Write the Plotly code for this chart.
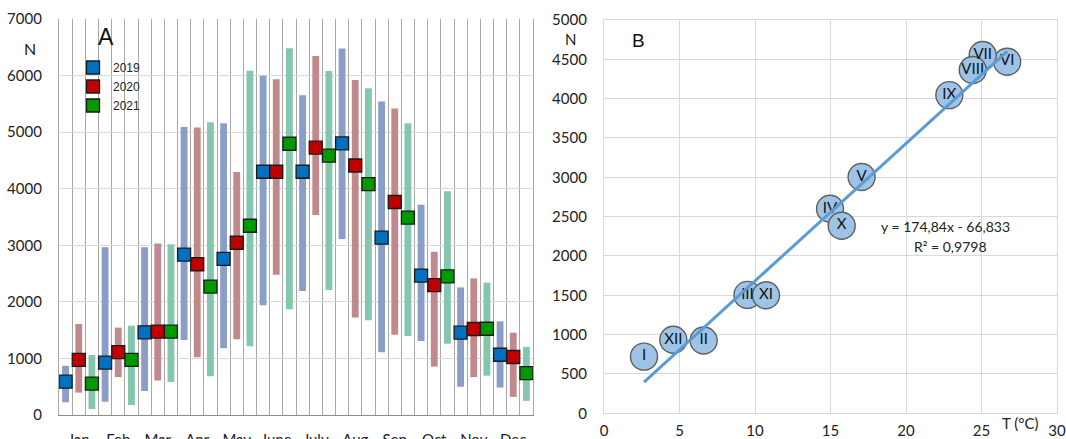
import plotly.graph_objects as go

# ---- Panel A: monthly N per year (mean with min–max range) ----
months = ["Jan", "Feb", "Mar", "Apr", "May", "June", "July", "Aug", "Sep", "Oct", "Nov", "Dec"]
years = ["2019", "2020", "2021"]

mean_2019 = [590, 925, 1460, 2835, 2760, 4300, 4300, 4800, 3135, 2465, 1455, 1065]
low_2019 = [225, 235, 425, 1325, 1180, 1940, 2190, 3110, 1110, 1310, 500, 485]
high_2019 = [870, 2965, 2965, 5090, 5155, 5995, 5650, 6480, 5540, 3715, 2255, 1655]

mean_2020 = [975, 1110, 1475, 2665, 3045, 4300, 4725, 4410, 3765, 2295, 1520, 1025]
low_2020 = [395, 670, 610, 1020, 1340, 2480, 3535, 1725, 1420, 855, 670, 320]
high_2020 = [1610, 1545, 3030, 5080, 4295, 5935, 6345, 5920, 5420, 2885, 2415, 1455]

mean_2021 = [555, 975, 1475, 2270, 3345, 4795, 4585, 4080, 3490, 2450, 1525, 740]
low_2021 = [105, 175, 585, 685, 1215, 1870, 2210, 1675, 1395, 1260, 695, 250]
high_2021 = [1060, 1580, 3020, 5175, 6085, 6485, 6080, 5775, 5155, 3955, 2340, 1205]

# ---- Panel B: mean N vs mean temperature per month ----
month_roman = ["I", "II", "III", "IV", "V", "VI", "VII", "VIII", "IX", "X", "XI", "XII"]
temp_c = [2.65, 6.6, 9.5, 14.97, 17.06, 26.7, 25.08, 24.42, 22.87, 15.74, 10.73, 4.59]
n_mean = [720, 925, 1505, 2600, 3005, 4470, 4555, 4365, 4045, 2385, 1500, 935]
fit_slope = 174.84
fit_intercept = -66.833
fit_r2 = 0.9798

series = [
    (years[0], mean_2019, low_2019, high_2019, "#8A9EC8", "#0070C0"),
    (years[1], mean_2020, low_2020, high_2020, "#C08A8C", "#C00000"),
    (years[2], mean_2021, low_2021, high_2021, "#84C6AE", "#009A00"),
]

FONT = "Lato"
W, H = 1066, 439

fig = go.Figure()

# one slot per (month, year); the three years of a month sit side by side
for k, (yr, mean, low, high, bar_col, mk_col) in enumerate(series):
    slots = [m * 3 + k for m in range(len(months))]
    fig.add_trace(go.Bar(
        x=slots, y=[h - l for h, l in zip(high, low)], base=low,
        width=0.52, marker=dict(color=bar_col, line=dict(width=0)),
        showlegend=False, hoverinfo="skip", xaxis="x", yaxis="y"))

for k, (yr, mean, low, high, bar_col, mk_col) in enumerate(series):
    slots = [m * 3 + k for m in range(len(months))]
    fig.add_trace(go.Scatter(
        x=slots, y=mean, mode="markers", name=yr,
        marker=dict(symbol="square", size=13, color=mk_col,
                    line=dict(color="#1a1a1a", width=1.3)),
        xaxis="x", yaxis="y"))

# panel B bubbles and trend line
fig.add_trace(go.Scatter(
    x=temp_c, y=n_mean, mode="markers+text", text=month_roman,
    textposition="middle center", textfont=dict(family=FONT, size=15, color="#111"),
    marker=dict(size=27, color="#9DC3E6", line=dict(color="#5F5F5F", width=1.4)),
    showlegend=False, xaxis="x2", yaxis="y2"))

x_fit = [min(temp_c), max(temp_c)]
y_fit = [fit_slope * x + fit_intercept for x in x_fit]
fig.add_trace(go.Scatter(
    x=x_fit, y=y_fit, mode="lines", line=dict(color="#5B9BD5", width=3),
    showlegend=False, xaxis="x2", yaxis="y2"))

month_centers = [m * 3 + 1 for m in range(len(months))]


def label(text, px, py, size, family=FONT, color="#222"):
    return dict(text=text, x=px / W, y=1 - py / H, xref="paper", yref="paper",
                xanchor="center", yanchor="middle", showarrow=False,
                font=dict(family=family, size=size, color=color))


fig.update_layout(
    width=W, height=H,
    margin=dict(l=0, r=0, t=0, b=0, autoexpand=False),
    paper_bgcolor="white", plot_bgcolor="white",
    barmode="overlay",
    font=dict(family=FONT, size=15, color="#222"),
    xaxis=dict(
        domain=[59 / W, 533 / W], range=[-0.5, 35.5], automargin=False,
        tickmode="array", tickvals=month_centers, ticktext=months,
        showgrid=False, zeroline=False,
        showline=True, linecolor="#8C8C8C", linewidth=1.3,
        ticks="outside", ticklen=11, tickcolor="rgba(0,0,0,0)",
        tickfont=dict(family=FONT, size=15, color="#222"),
        minor=dict(tick0=0.5, dtick=1, showgrid=True, gridcolor="#A8A8A8",
                   gridwidth=1.3, ticks=""),
        fixedrange=True),
    yaxis=dict(
        domain=[1 - 415 / H, 1 - 19 / H], range=[0, 7000], dtick=1000, automargin=False,
        showgrid=True, gridcolor="#D9D9D9", gridwidth=1.2, zeroline=False,
        showline=True, mirror=True, linecolor="#A8A8A8", linewidth=1.3,
        ticks="outside", ticklen=13, tickcolor="rgba(0,0,0,0)",
        tickfont=dict(family=FONT, size=15, color="#222"),
        fixedrange=True),
    xaxis2=dict(
        domain=[604 / W, 1057 / W], range=[0, 30], dtick=5, automargin=False,
        showgrid=True, gridcolor="#D9D9D9", gridwidth=1.2, zeroline=False,
        showline=True, mirror=True, linecolor="#D9D9D9", linewidth=1.2,
        ticks="outside", ticklen=4, tickcolor="rgba(0,0,0,0)",
        tickfont=dict(family=FONT, size=15, color="#222"),
        anchor="y2", fixedrange=True),
    yaxis2=dict(
        domain=[1 - 413.3 / H, 1 - 20 / H], range=[0, 5000], dtick=500, automargin=False,
        showgrid=True, gridcolor="#D9D9D9", gridwidth=1.2, zeroline=False,
        showline=True, mirror=True, linecolor="#D9D9D9", linewidth=1.2,
        ticks="outside", ticklen=13, tickcolor="rgba(0,0,0,0)",
        tickfont=dict(family=FONT, size=15, color="#222"),
        anchor="x2", fixedrange=True),
    legend=dict(
        x=73 / W, y=1 - 53 / H, xanchor="left", yanchor="top",
        bgcolor="rgba(0,0,0,0)", font=dict(family="Liberation Sans", size=12, color="#222"),
        itemwidth=30, tracegroupgap=2),
    annotations=[
        label("A", 106, 37, 23, family="Liberation Sans", color="#111"),
        label("N", 30, 48, 16),
        label("B", 638, 40, 19, family="Liberation Sans", color="#111"),
        label("N", 570, 39, 15),
        label(f"y = {fit_slope:.2f}x - {abs(fit_intercept):.3f}".replace(".", ","), 945, 226, 14),
        label(f"R² = {fit_r2:.4f}".replace(".", ","), 950, 246.5, 14),
        label("T (°C)", 1020, 423, 15),
    ],
)

fig.write_html("out.html")
